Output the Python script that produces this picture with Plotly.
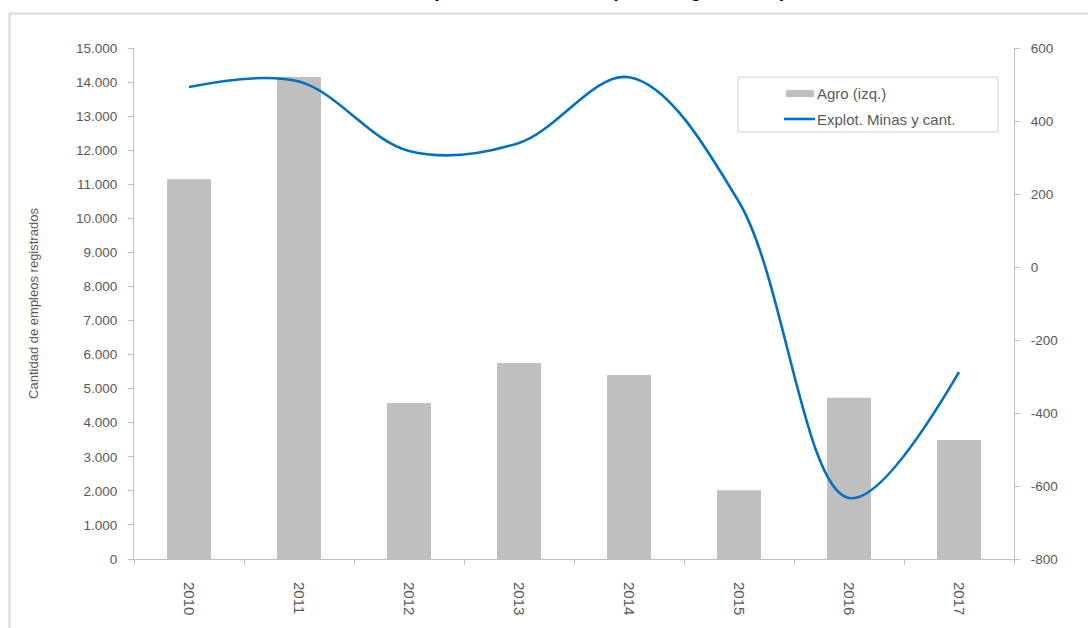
import plotly.graph_objects as go

# Annual data
years = ["2010", "2011", "2012", "2013", "2014", "2015", "2016", "2017"]
agro = [11150, 14150, 4580, 5750, 5400, 2020, 4730, 3490]
minas = [493, 508, 318, 340, 520, 178, -633, -288]

left_ticks = list(range(0, 15001, 1000))
right_ticks = list(range(-800, 601, 200))
right_labels = [str(v) for v in right_ticks]

W, H = 1088, 628
ML, MR, MT, MB = 134, 74, 48, 69
PW, PH = W - ML - MR, H - MT - MB

AXIS = "#bfbfbf"
TXT = "#595959"
BAR = "#bfbfbf"
LINE = "#0070c0"
FONT = "Liberation Sans, Arial, sans-serif"


def px(x):
    return (x - ML) / PW


def py(y):
    return (H - MB - y) / PH


fig = go.Figure()
fig.add_trace(go.Bar(
    x=years, y=agro, name="Agro (izq.)", marker_color=BAR,
    marker_line_width=0, showlegend=False, yaxis="y",
))
fig.add_trace(go.Scatter(
    x=years, y=minas, name="Explot. Minas y cant.", mode="lines",
    line=dict(color=LINE, width=2.6, shape="spline", smoothing=1.0),
    showlegend=False, yaxis="y2",
))

tick_font = dict(family=FONT, size=13.5, color=TXT)

fig.update_layout(
    width=W, height=H,
    margin=dict(l=ML, r=MR, t=MT, b=MB, pad=0),
    paper_bgcolor="white", plot_bgcolor="white",
    separators=",.",
    bargap=0.6,
    font=dict(family=FONT, color=TXT),
    xaxis=dict(
        type="category", showgrid=False, showline=True, linecolor=AXIS, linewidth=1,
        ticks="outside", ticklen=5, tickcolor=AXIS, tickson="boundaries",
        tickangle=90, tickfont=dict(family=FONT, size=15, color=TXT),
        ticklabelstandoff=19, zeroline=False,
    ),
    yaxis=dict(
        range=[0, 15000], tickvals=left_ticks, tickformat=",d",
        showgrid=False, zeroline=False, showline=True, linecolor=AXIS, linewidth=1,
        ticks="outside", ticklen=5, tickcolor=AXIS, tickfont=tick_font,
        ticklabelstandoff=8,
        title=dict(text="Cantidad de empleos registrados",
                   font=dict(family=FONT, size=13, color=TXT), standoff=34),
    ),
    yaxis2=dict(
        range=[-800, 600], tickvals=right_ticks, ticktext=right_labels,
        overlaying="y", side="right",
        showgrid=False, zeroline=False, showline=True, linecolor=AXIS, linewidth=1,
        ticks="outside", ticklen=5, tickcolor=AXIS, tickfont=tick_font,
        ticklabelstandoff=8,
    ),
)

# Outer chart frame
fig.add_shape(type="rect", xref="paper", yref="paper",
              x0=px(9.5), x1=px(1200), y0=py(700), y1=py(13.5),
              line=dict(color="#d9d9d9", width=2), fillcolor="rgba(0,0,0,0)",
              layer="below")

# Chart title (sits mostly above the visible page area)
fig.add_annotation(text="<b>(en cantidad de empleos registrados)</b>",
                   xref="paper", yref="paper", x=px(430), y=py(2.5),
                   xanchor="left", yanchor="bottom", showarrow=False,
                   font=dict(family=FONT, size=20, color="#000000"))

# Legend box
fig.add_shape(type="rect", xref="paper", yref="paper",
              x0=px(738), x1=px(998), y0=py(132), y1=py(77),
              line=dict(color="#d0d0d0", width=1), fillcolor="white")
fig.add_shape(type="rect", xref="paper", yref="paper",
              x0=px(786), x1=px(814), y0=py(97), y1=py(90),
              line=dict(width=0), fillcolor=BAR)
fig.add_shape(type="line", xref="paper", yref="paper",
              x0=px(784), x1=px(815), y0=py(119), y1=py(119),
              line=dict(color=LINE, width=2.6))
fig.add_annotation(text="Agro (izq.)", xref="paper", yref="paper",
                   x=px(815), y=py(93), xanchor="left", yanchor="middle",
                   showarrow=False, font=dict(family=FONT, size=15, color=TXT))
fig.add_annotation(text="Explot. Minas y cant.", xref="paper", yref="paper",
                   x=px(815), y=py(119), xanchor="left", yanchor="middle",
                   showarrow=False, font=dict(family=FONT, size=15, color=TXT))

fig.write_html("out.html")
